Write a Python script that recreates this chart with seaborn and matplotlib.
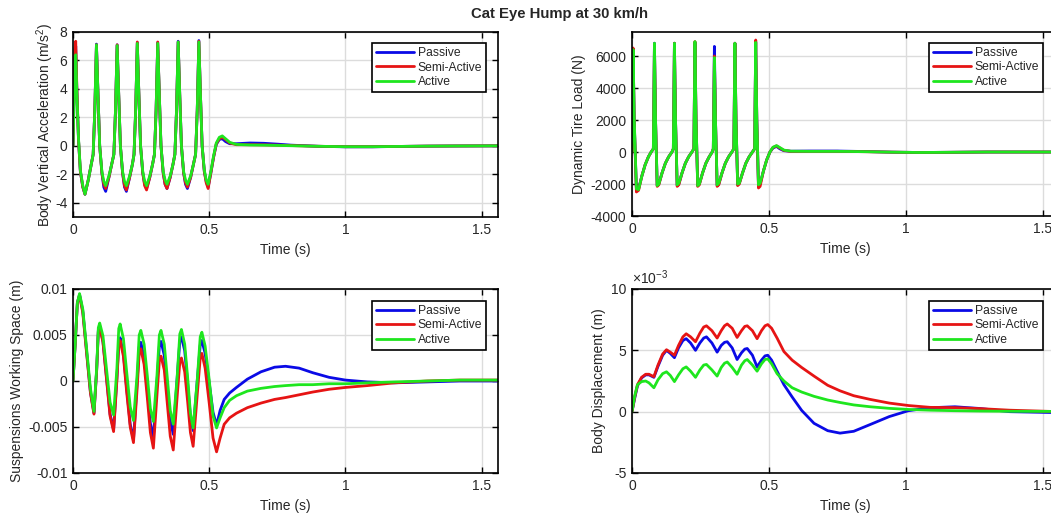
import matplotlib
matplotlib.use("Agg")
import matplotlib.pyplot as plt
import seaborn as sns

# ---------------- data ----------------
SERIES = ["Passive", "Semi-Active", "Active"]
COLORS = ["#0a0ae6", "#e61414", "#1ee61e"]
X_TICKS = [0, 0.5, 1, 1.5]
X_TICK_LABELS = ["0", "0.5", "1", "1.5"]

# Body vertical acceleration (m/s^2)
t_acc = [0.000, 0.004, 0.007, 0.010, 0.014, 0.020, 0.027, 0.036, 0.044, 0.056, 0.066,
         0.074, 0.080, 0.086, 0.092, 0.098, 0.106, 0.113, 0.120, 0.132, 0.142,
         0.150, 0.156, 0.162, 0.168, 0.174, 0.182, 0.189, 0.196, 0.208, 0.218,
         0.224, 0.230, 0.236, 0.242, 0.248, 0.256, 0.263, 0.270, 0.282, 0.292,
         0.299, 0.305, 0.311, 0.317, 0.323, 0.331, 0.338, 0.345, 0.357, 0.367,
         0.374, 0.380, 0.386, 0.392, 0.398, 0.406, 0.413, 0.420, 0.432, 0.442,
         0.450, 0.456, 0.462, 0.468, 0.474, 0.482, 0.489, 0.496,
         0.506, 0.516, 0.526, 0.537, 0.548, 0.560, 0.575, 0.600, 0.650, 0.700,
         0.750, 0.800, 0.900, 1.000, 1.100, 1.200, 1.300, 1.400, 1.560]
acc_passive = [0, 3.5, 6.2, 7.0, 4.0, 0.5, -1.8, -2.9, -3.4, -2.4, -1.4,
               -0.6, 2.5, 7.15, 3.5, 0.0, -1.9, -2.9, -3.2, -2.2, -1.3,
               -0.6, 2.5, 7.1, 3.5, 0.0, -1.9, -2.9, -3.2, -2.2, -1.3,
               -0.6, 2.5, 7.25, 3.5, 0.0, -1.9, -2.7, -3.0, -2.2, -1.3,
               -0.6, 2.5, 7.25, 3.5, 0.0, -1.9, -2.7, -3.0, -2.2, -1.3,
               -0.6, 2.5, 7.35, 3.5, 0.0, -1.9, -2.7, -3.0, -2.2, -1.3,
               -0.6, 2.5, 7.4, 3.5, 0.0, -1.8, -2.5, -2.9,
               -1.9, -0.8, 0.1, 0.45, 0.5, 0.3, 0.15, 0.15, 0.2, 0.18,
               0.12, 0.05, -0.03, -0.07, -0.07, -0.04, -0.02, -0.01, 0.0]
acc_semi = [0, 4.0, 6.8, 7.35, 4.2, 0.5, -1.8, -2.9, -3.4, -2.4, -1.4,
            -0.6, 2.5, 7.1, 3.5, 0.0, -1.9, -2.7, -3.0, -2.2, -1.3,
            -0.6, 2.5, 7.1, 3.5, 0.0, -1.9, -2.8, -3.1, -2.2, -1.3,
            -0.6, 2.5, 7.3, 3.5, 0.0, -1.9, -2.8, -3.1, -2.2, -1.3,
            -0.6, 2.5, 7.3, 3.5, 0.0, -1.9, -2.7, -3.0, -2.2, -1.3,
            -0.6, 2.5, 7.3, 3.5, 0.0, -1.9, -2.6, -2.9, -2.2, -1.3,
            -0.6, 2.5, 7.35, 3.5, 0.0, -1.8, -2.6, -3.0,
            -1.9, -0.8, 0.15, 0.5, 0.6, 0.45, 0.2, 0.08, 0.08, 0.07,
            0.05, 0.02, -0.03, -0.06, -0.06, -0.04, -0.02, -0.01, 0.0]
acc_active = [0, 3.2, 5.8, 6.4, 3.8, 0.6, -1.7, -2.8, -3.4, -2.4, -1.4,
              -0.6, 2.5, 7.1, 3.5, 0.0, -1.8, -2.5, -2.8, -2.1, -1.3,
              -0.6, 2.5, 7.05, 3.5, 0.0, -1.8, -2.5, -2.8, -2.1, -1.3,
              -0.6, 2.5, 7.2, 3.5, 0.0, -1.8, -2.5, -2.8, -2.1, -1.3,
              -0.6, 2.5, 7.2, 3.5, 0.0, -1.8, -2.4, -2.7, -2.1, -1.3,
              -0.6, 2.5, 7.3, 3.5, 0.0, -1.8, -2.4, -2.7, -2.1, -1.3,
              -0.6, 2.5, 7.3, 3.5, 0.0, -1.7, -2.4, -2.7,
              -1.8, -0.7, 0.2, 0.6, 0.7, 0.5, 0.25, 0.1, 0.06, 0.05,
              0.03, 0.01, -0.03, -0.06, -0.06, -0.04, -0.02, -0.01, 0.0]

# Dynamic tire load (N)
t_tire = [0.000, 0.004, 0.008, 0.016, 0.024, 0.036, 0.048, 0.060, 0.070,
          0.078, 0.082, 0.086, 0.092, 0.098, 0.110, 0.122, 0.134, 0.146,
          0.151, 0.155, 0.159, 0.165, 0.171, 0.183, 0.195, 0.207, 0.219,
          0.226, 0.230, 0.234, 0.240, 0.246, 0.258, 0.270, 0.282, 0.293,
          0.297, 0.301, 0.305, 0.311, 0.317, 0.329, 0.341, 0.353, 0.365,
          0.372, 0.376, 0.380, 0.386, 0.392, 0.404, 0.416, 0.428, 0.440,
          0.448, 0.452, 0.456, 0.462, 0.468, 0.480, 0.492, 0.504,
          0.515, 0.528, 0.540, 0.555, 0.580, 0.650, 0.750, 0.850, 0.950,
          1.050, 1.150, 1.300, 1.560]
tire_passive = [450, 6400, 2000, -2300, -2300, -1500, -800, -300, 0,
                200, 6800, 2000, -2100, -2000, -1300, -700, -300, 0,
                200, 6800, 2000, -2100, -2000, -1300, -700, -300, 0,
                200, 6850, 2000, -2100, -2000, -1300, -700, -300, 0,
                200, 6600, 2000, -2100, -2000, -1300, -700, -300, 0,
                200, 6800, 2000, -2050, -1950, -1300, -700, -300, 0,
                200, 6900, 2000, -2100, -2000, -1200, -500, 0,
                250, 350, 200, 80, 50, 60, 60, 30, -10,
                -30, -20, 0, 0]
tire_semi = [0, 6500, 2000, -2500, -2400, -1500, -800, -300, 0,
             200, 6750, 2000, -2150, -2050, -1300, -700, -300, 0,
             200, 6800, 2000, -2150, -2050, -1300, -700, -300, 0,
             200, 6900, 2000, -2150, -2050, -1300, -700, -300, 0,
             200, 6000, 2000, -2150, -2050, -1300, -700, -300, 0,
             200, 6800, 2000, -2100, -2000, -1300, -700, -300, 0,
             200, 7000, 2000, -2250, -2150, -1200, -500, 0,
             280, 380, 250, 100, 40, 40, 40, 20, -10,
             -30, -20, 0, 0]
tire_active = [0, 6400, 2200, -2300, -2350, -1500, -800, -300, 0,
               200, 6800, 2000, -2100, -2000, -1300, -700, -300, 0,
               200, 6800, 2000, -2050, -1950, -1300, -700, -300, 0,
               200, 6900, 2000, -2100, -2000, -1300, -700, -300, 0,
               200, 5900, 2000, -2050, -1950, -1300, -700, -300, 0,
               200, 6800, 2000, -2000, -1950, -1300, -700, -300, 0,
               200, 6850, 2000, -2050, -1950, -1200, -500, 0,
               300, 400, 280, 120, 50, 40, 40, 20, -10,
               -30, -20, 0, 0]

# Suspension working space (m)
t_sws = [0.000, 0.008, 0.016, 0.024, 0.036, 0.050, 0.064, 0.077,
         0.087, 0.093, 0.098, 0.110, 0.123, 0.136, 0.149,
         0.161, 0.168, 0.173, 0.185, 0.197, 0.210, 0.222,
         0.235, 0.243, 0.249, 0.261, 0.273, 0.284, 0.295,
         0.308, 0.317, 0.323, 0.335, 0.346, 0.357, 0.368,
         0.382, 0.392, 0.398, 0.410, 0.421, 0.431, 0.441,
         0.456, 0.467, 0.473, 0.485, 0.500, 0.514, 0.527,
         0.540, 0.555, 0.575, 0.600, 0.640, 0.690, 0.740, 0.780, 0.830,
         0.880, 0.940, 1.000, 1.080, 1.180, 1.300, 1.420, 1.560]
sws_passive = [0, 0.0040, 0.0085, 0.0094, 0.0076, 0.0032, -0.0012, -0.0035,
               0.0013, 0.0055, 0.0060, 0.0043, 0.0004, -0.0036, -0.0053,
               0.0003, 0.0042, 0.0047, 0.0030, -0.0008, -0.0047, -0.0064,
               -0.0003, 0.0037, 0.0042, 0.0026, -0.0010, -0.0046, -0.0062,
               -0.0002, 0.0038, 0.0043, 0.0028, -0.0008, -0.0043, -0.0058,
               0.0002, 0.0043, 0.0048, 0.0033, -0.0003, -0.0039, -0.0054,
               0.0000, 0.0039, 0.0044, 0.0030, -0.0002, -0.0034, -0.0048,
               -0.0032, -0.0020, -0.0013, -0.0007, 0.0002, 0.0010, 0.0015, 0.0016, 0.0014,
               0.0009, 0.0004, 0.0001, -0.0001, -0.0002, -0.0001, 0.0000, 0.0000]
sws_semi = [0, 0.0040, 0.0085, 0.0093, 0.0074, 0.0030, -0.0013, -0.0036,
            0.0012, 0.0054, 0.0059, 0.0042, 0.0002, -0.0038, -0.0055,
            0.0000, 0.0039, 0.0044, 0.0027, -0.0012, -0.0050, -0.0067,
            -0.0010, 0.0030, 0.0035, 0.0018, -0.0019, -0.0056, -0.0073,
            -0.0016, 0.0022, 0.0027, 0.0012, -0.0024, -0.0060, -0.0075,
            -0.0018, 0.0020, 0.0025, 0.0010, -0.0023, -0.0056, -0.0071,
            -0.0015, 0.0025, 0.0030, 0.0014, -0.0024, -0.0062, -0.0077,
            -0.0062, -0.0047, -0.0040, -0.0035, -0.0029, -0.0024, -0.0020, -0.0018, -0.0015,
            -0.0012, -0.0009, -0.0007, -0.0005, -0.0002, 0.0000, 0.0001, 0.0001]
sws_active = [0, 0.0040, 0.0085, 0.0095, 0.0078, 0.0035, -0.0008, -0.0033,
              0.0015, 0.0058, 0.0063, 0.0049, 0.0013, -0.0023, -0.0037,
              0.0013, 0.0057, 0.0062, 0.0046, 0.0010, -0.0028, -0.0043,
              0.0006, 0.0050, 0.0055, 0.0040, 0.0005, -0.0030, -0.0044,
              0.0005, 0.0050, 0.0055, 0.0040, 0.0004, -0.0032, -0.0047,
              0.0003, 0.0051, 0.0056, 0.0040, 0.0003, -0.0035, -0.0051,
              0.0001, 0.0048, 0.0053, 0.0038, 0.0001, -0.0038, -0.0051,
              -0.0040, -0.0029, -0.0021, -0.0016, -0.0011, -0.0008, -0.0006, -0.0005, -0.0004,
              -0.0004, -0.0003, -0.0003, -0.0002, -0.0001, 0.0000, 0.0001, 0.0001]

# Body displacement (x 1e-3 m)
t_bd = [0.000, 0.010, 0.020, 0.035, 0.050, 0.062, 0.080, 0.095, 0.112, 0.126,
        0.140, 0.155, 0.170, 0.186, 0.198, 0.214, 0.232, 0.248, 0.262, 0.272,
        0.292, 0.311, 0.326, 0.338, 0.348, 0.366, 0.384, 0.400, 0.412, 0.421,
        0.440, 0.457, 0.473, 0.486, 0.496, 0.510, 0.530, 0.555, 0.585, 0.620,
        0.665, 0.715, 0.760, 0.810, 0.870, 0.940, 1.010, 1.090, 1.180, 1.270,
        1.380, 1.560]
bd_passive = [0, 1.1, 2.1, 2.75, 3.0, 3.0, 2.8, 3.7, 4.6, 5.0,
              4.75, 4.4, 5.2, 5.8, 5.95, 5.6, 5.0, 5.6, 6.0, 6.1,
              5.6, 4.85, 5.4, 5.65, 5.7, 5.2, 4.25, 4.8, 5.1, 5.15,
              4.6, 3.65, 4.2, 4.55, 4.6, 4.2, 3.3, 2.2, 1.2, 0.1,
              -0.95, -1.55, -1.75, -1.6, -1.05, -0.4, 0.08, 0.32, 0.4, 0.26,
              0.0, -0.08]
bd_semi = [0, 1.2, 2.2, 2.8, 3.05, 3.05, 2.85, 3.8, 4.7, 5.05,
           4.85, 4.6, 5.4, 6.1, 6.35, 6.1, 5.7, 6.4, 6.9, 7.0,
           6.6, 6.0, 6.6, 7.0, 7.15, 6.8, 6.05, 6.6, 6.95, 7.0,
           6.6, 5.95, 6.6, 7.0, 7.1, 6.8, 6.0, 4.9, 4.2, 3.6,
           2.9, 2.15, 1.7, 1.3, 1.0, 0.7, 0.5, 0.35, 0.33, 0.25,
           0.12, 0.0]
bd_active = [0, 1.3, 2.2, 2.45, 2.5, 2.35, 1.95, 2.6, 3.1, 3.25,
             2.95, 2.45, 3.0, 3.5, 3.65, 3.3, 2.8, 3.4, 3.8, 3.85,
             3.4, 2.9, 3.6, 3.95, 4.05, 3.6, 3.05, 3.8, 4.15, 4.25,
             3.8, 3.3, 3.9, 4.25, 4.3, 3.9, 3.1, 2.5, 1.95, 1.6,
             1.25, 0.95, 0.75, 0.55, 0.4, 0.27, 0.18, 0.12, 0.08, 0.05,
             0.03, 0.02]

# ---------------- plotting ----------------
sns.set_theme(style="white")
plt.rcParams["font.family"] = ["Liberation Sans", "DejaVu Sans"]
plt.rcParams["axes.unicode_minus"] = False
plt.rcParams["mathtext.default"] = "regular"

fig = plt.figure(figsize=(10.51, 5.17), dpi=100)
W, H = 1051.0, 517.0
TXT = "#262626"


def make_axes(left, top, right, bottom):
    return fig.add_axes([left / W, 1 - bottom / H, (right - left) / W, (bottom - top) / H])


ax_acc = make_axes(73, 32, 498, 217)
ax_tire = make_axes(632, 32, 1059, 216)
ax_sws = make_axes(73, 289, 498, 473)
ax_bd = make_axes(632, 289, 1059, 473)

panels = [
    (ax_acc, t_acc, [acc_passive, acc_semi, acc_active], (-5, 8),
     [-4, -2, 0, 2, 4, 6, 8], ["-4", "-2", "0", "2", "4", "6", "8"],
     "Body Vertical Acceleration (m/s$^2$)", -0.066, (0.972, 0.9405)),
    (ax_tire, t_tire, [tire_passive, tire_semi, tire_active], (-4000, 7500),
     [-4000, -2000, 0, 2000, 4000, 6000], ["-4000", "-2000", "0", "2000", "4000", "6000"],
     "Dynamic Tire Load (N)", -0.124, (0.9625, 0.9405)),
    (ax_sws, t_sws, [sws_passive, sws_semi, sws_active], (-0.01, 0.01),
     [-0.01, -0.005, 0, 0.005, 0.01], ["-0.01", "-0.005", "0", "0.005", "0.01"],
     "Suspensions Working Space (m)", -0.132, (0.972, 0.935)),
    (ax_bd, t_bd, [bd_passive, bd_semi, bd_active], (-5, 10),
     [-5, 0, 5, 10], ["-5", "0", "5", "10"],
     "Body Displacement (m)", -0.077, (0.9625, 0.935)),
]

for ax, t, ys, ylim, yt, ytl, ylab, ylx, legpos in panels:
    for name, col, y in zip(SERIES, COLORS, ys):
        sns.lineplot(x=t, y=y, ax=ax, color=col, linewidth=2.0, label=name,
                     estimator=None, sort=False)
    ax.set_xlim(0, 1.56)
    ax.set_ylim(*ylim)
    ax.set_xticks(X_TICKS)
    ax.set_xticklabels(X_TICK_LABELS)
    ax.set_yticks(yt)
    ax.set_yticklabels(ytl)
    ax.grid(True, color="#dcdcdc", linewidth=1.0)
    ax.set_axisbelow(True)
    for sp in ax.spines.values():
        sp.set_visible(True)
        sp.set_color("black")
        sp.set_linewidth(1.2)
    ax.tick_params(axis="both", which="both", direction="in", length=4, width=1,
                   top=True, right=True, bottom=True, left=True,
                   labelsize=10, colors="black", pad=4, labelcolor=TXT)
    ax.set_xlabel("Time (s)", fontsize=10, color=TXT, va="center")
    ax.xaxis.set_label_coords(0.5, -0.178)
    ax.set_ylabel(ylab, fontsize=10, color=TXT, va="center")
    ax.yaxis.set_label_coords(ylx, 0.5)
    leg = ax.legend(loc="upper right", bbox_to_anchor=legpos, borderaxespad=0,
                    fontsize=8.7, frameon=True, fancybox=False, framealpha=1,
                    handlelength=3.1, handletextpad=0.33, labelspacing=0.22,
                    borderpad=0.32)
    leg.get_frame().set_edgecolor("black")
    leg.get_frame().set_linewidth(1.2)
    for line in leg.get_lines():
        line.set_linewidth(2.0)

ax_bd.text(0.0, 1.01, "×10$^{-3}$", transform=ax_bd.transAxes, fontsize=10,
           ha="left", va="bottom", color=TXT)

fig.text(0.532, 0.973, "Cat Eye Hump at 30 km/h", ha="center", va="center",
         fontsize=10.7, fontweight="bold")

fig.savefig("out.png", dpi=100)
